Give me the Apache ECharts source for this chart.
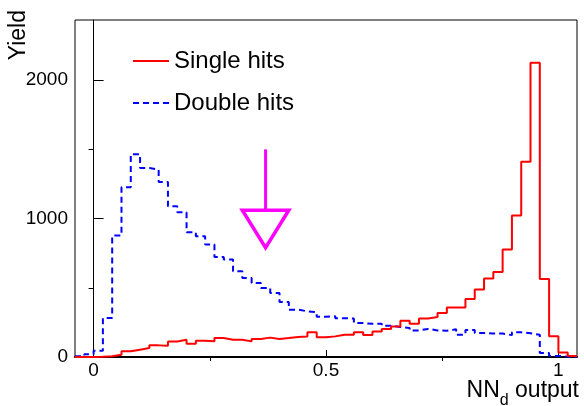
<!DOCTYPE html>
<html>
<head>
<meta charset="utf-8">
<title>NNd output</title>
<script src="https://cdn.jsdelivr.net/npm/echarts@6/dist/echarts.min.js"></script>
<style>
  html, body { margin: 0; padding: 0; background: #fff; }
  #chart { width: 584px; height: 406px; }
</style>
</head>
<body>
<div id="chart"></div>
<script>
// histogram binning: 54 bins of 0.02 from -0.04 to 1.04
const binStart = -0.04
const binWidth = 0.02

const singleHits = [
  0, 0, 2, 5, 17, 41, 53, 65, 84, 82,
  112, 125, 96, 118, 113, 137, 125, 125, 113, 130,
  140, 130, 137, 145, 149, 178, 142, 149, 161, 161,
  178, 159, 185, 202, 221, 262, 241, 279, 289, 318,
  357, 357, 419, 487, 568, 614, 776, 1022, 1410, 2126,
  564, 150, 33, 8,
]

const doubleHits = [
  5, 20, 45, 282, 877, 1226, 1465, 1366, 1354, 1265,
  1089, 1046, 901, 872, 812, 723, 704, 619, 571, 535,
  499, 463, 398, 342, 330, 325, 290, 295, 280, 278,
  245, 240, 240, 225, 217, 210, 192, 203, 192, 190,
  200, 161, 195, 173, 170, 170, 158, 178, 172, 160,
  29, 8, 3, 0,
]

const xTicks = [0, 0.5, 1]
const xMinorTicks = [0.25, 0.75]
const yTicks = [0, 1000, 2000]
const yMinorTicks = [500, 1500]

// cut marker (data coords): x, shaft top, head base, tip, head half width
const cutArrow = [0.37, 1500, 1060, 790, 0.05]

const FONT = 'Liberation Sans, Arial, sans-serif'

function toSteps(values) {
  const pts = values.map((v, i) => [binStart + i * binWidth, v])
  pts.push([binStart + values.length * binWidth, values[values.length - 1]])
  return pts
}

function getOption() {
  const xMin = binStart
  const xMax = binStart + singleHits.length * binWidth
  const yMax = 2435
  const baseX = { type: 'value', min: xMin, max: xMax, splitLine: { show: false } }
  const baseY = { type: 'value', min: 0, max: yMax, splitLine: { show: false } }

  return {
    animation: false,
    backgroundColor: '#fff',
    grid: {
      left: 75, right: 7, top: 20, bottom: 49,
      outerBoundsMode: 'none',
      containLabel: false,
      show: true, borderColor: '#000', borderWidth: 1,
    },
    legend: {
      data: ['Single hits', 'Double hits'],
      orient: 'vertical',
      left: 132,
      top: 49,
      padding: 0,
      itemWidth: 36,
      itemHeight: 14,
      itemGap: 18,
      itemStyle: { opacity: 0 },
      textStyle: { fontFamily: FONT, fontSize: 24, color: '#000', lineHeight: 24 },
    },
    graphic: [
      {
        type: 'text',
        x: 19, y: 10,
        rotation: Math.PI / 2,
        style: {
          text: 'Yield', fontFamily: FONT, fontSize: 23, fill: '#000',
          align: 'right', verticalAlign: 'middle',
        },
      },
      {
        type: 'text',
        right: 5, top: 373,
        style: {
          text: 'NN{sub|d} output', fontFamily: FONT, fontSize: 23, fill: '#000',
          lineHeight: 36,
          rich: { sub: { fontFamily: FONT, fontSize: 16, lineHeight: 16, verticalAlign: 'bottom', fill: '#000' } },
        },
      },
    ],
    xAxis: [
      {
        ...baseX,
        axisLine: { show: true, lineStyle: { color: '#000', width: 2 } },
        axisTick: { show: true, inside: true, length: 7, customValues: xTicks, lineStyle: { color: '#000' } },
        axisLabel: {
          customValues: xTicks, margin: 4,
          fontFamily: FONT, fontSize: 19, color: '#000',
          formatter: (v) => String(v),
        },
      },
      {
        ...baseX,
        axisLine: { show: false },
        axisTick: { show: true, inside: true, length: 4, customValues: xMinorTicks, lineStyle: { color: '#000' } },
        axisLabel: { show: false },
      },
    ],
    yAxis: [
      {
        ...baseY,
        axisLine: { show: true, lineStyle: { color: '#000', width: 1 } },
        axisTick: { show: true, inside: true, length: 10, customValues: yTicks, lineStyle: { color: '#000' } },
        axisLabel: {
          customValues: yTicks, margin: 7,
          fontFamily: FONT, fontSize: 19, color: '#000',
          formatter: (v) => String(v),
        },
      },
      {
        ...baseY,
        axisLine: { show: false },
        axisTick: { show: true, inside: true, length: 5, customValues: yMinorTicks, lineStyle: { color: '#000' } },
        axisLabel: { show: false },
      },
    ],
    series: [
      {
        name: 'Double hits',
        type: 'line',
        step: 'end',
        data: toSteps(doubleHits),
        symbol: 'none',
        lineStyle: { color: '#0000ff', width: 2, type: [6, 4] },
        itemStyle: { color: '#0000ff' },
        z: 3,
      },
      {
        name: 'Single hits',
        type: 'line',
        step: 'end',
        data: toSteps(singleHits),
        symbol: 'none',
        lineStyle: { color: '#ff0000', width: 2 },
        itemStyle: { color: '#ff0000' },
        z: 4,
      },
      {
        name: 'cut',
        type: 'custom',
        clip: false,
        data: [cutArrow],
        z: 5,
        renderItem(params, api) {
          const x = api.value(0)
          const hw = api.value(4)
          const top = api.coord([x, api.value(1)])
          const base = api.coord([x, api.value(2)])
          const tip = api.coord([x, api.value(3)])
          const left = api.coord([x - hw, api.value(2)])
          const right = api.coord([x + hw, api.value(2)])
          return {
            type: 'group',
            children: [
              {
                type: 'line',
                shape: { x1: top[0], y1: top[1], x2: base[0], y2: base[1] },
                style: { stroke: '#ff00ff', lineWidth: 3 },
              },
              {
                type: 'polygon',
                shape: { points: [left, right, tip] },
                style: { fill: 'none', stroke: '#ff00ff', lineWidth: 3.5 },
              },
            ],
          }
        },
      },
    ],
  }
}

const chart = echarts.init(document.getElementById('chart'))
chart.setOption(getOption())
window.addEventListener('resize', () => chart.resize())
</script>
</body>
</html>
